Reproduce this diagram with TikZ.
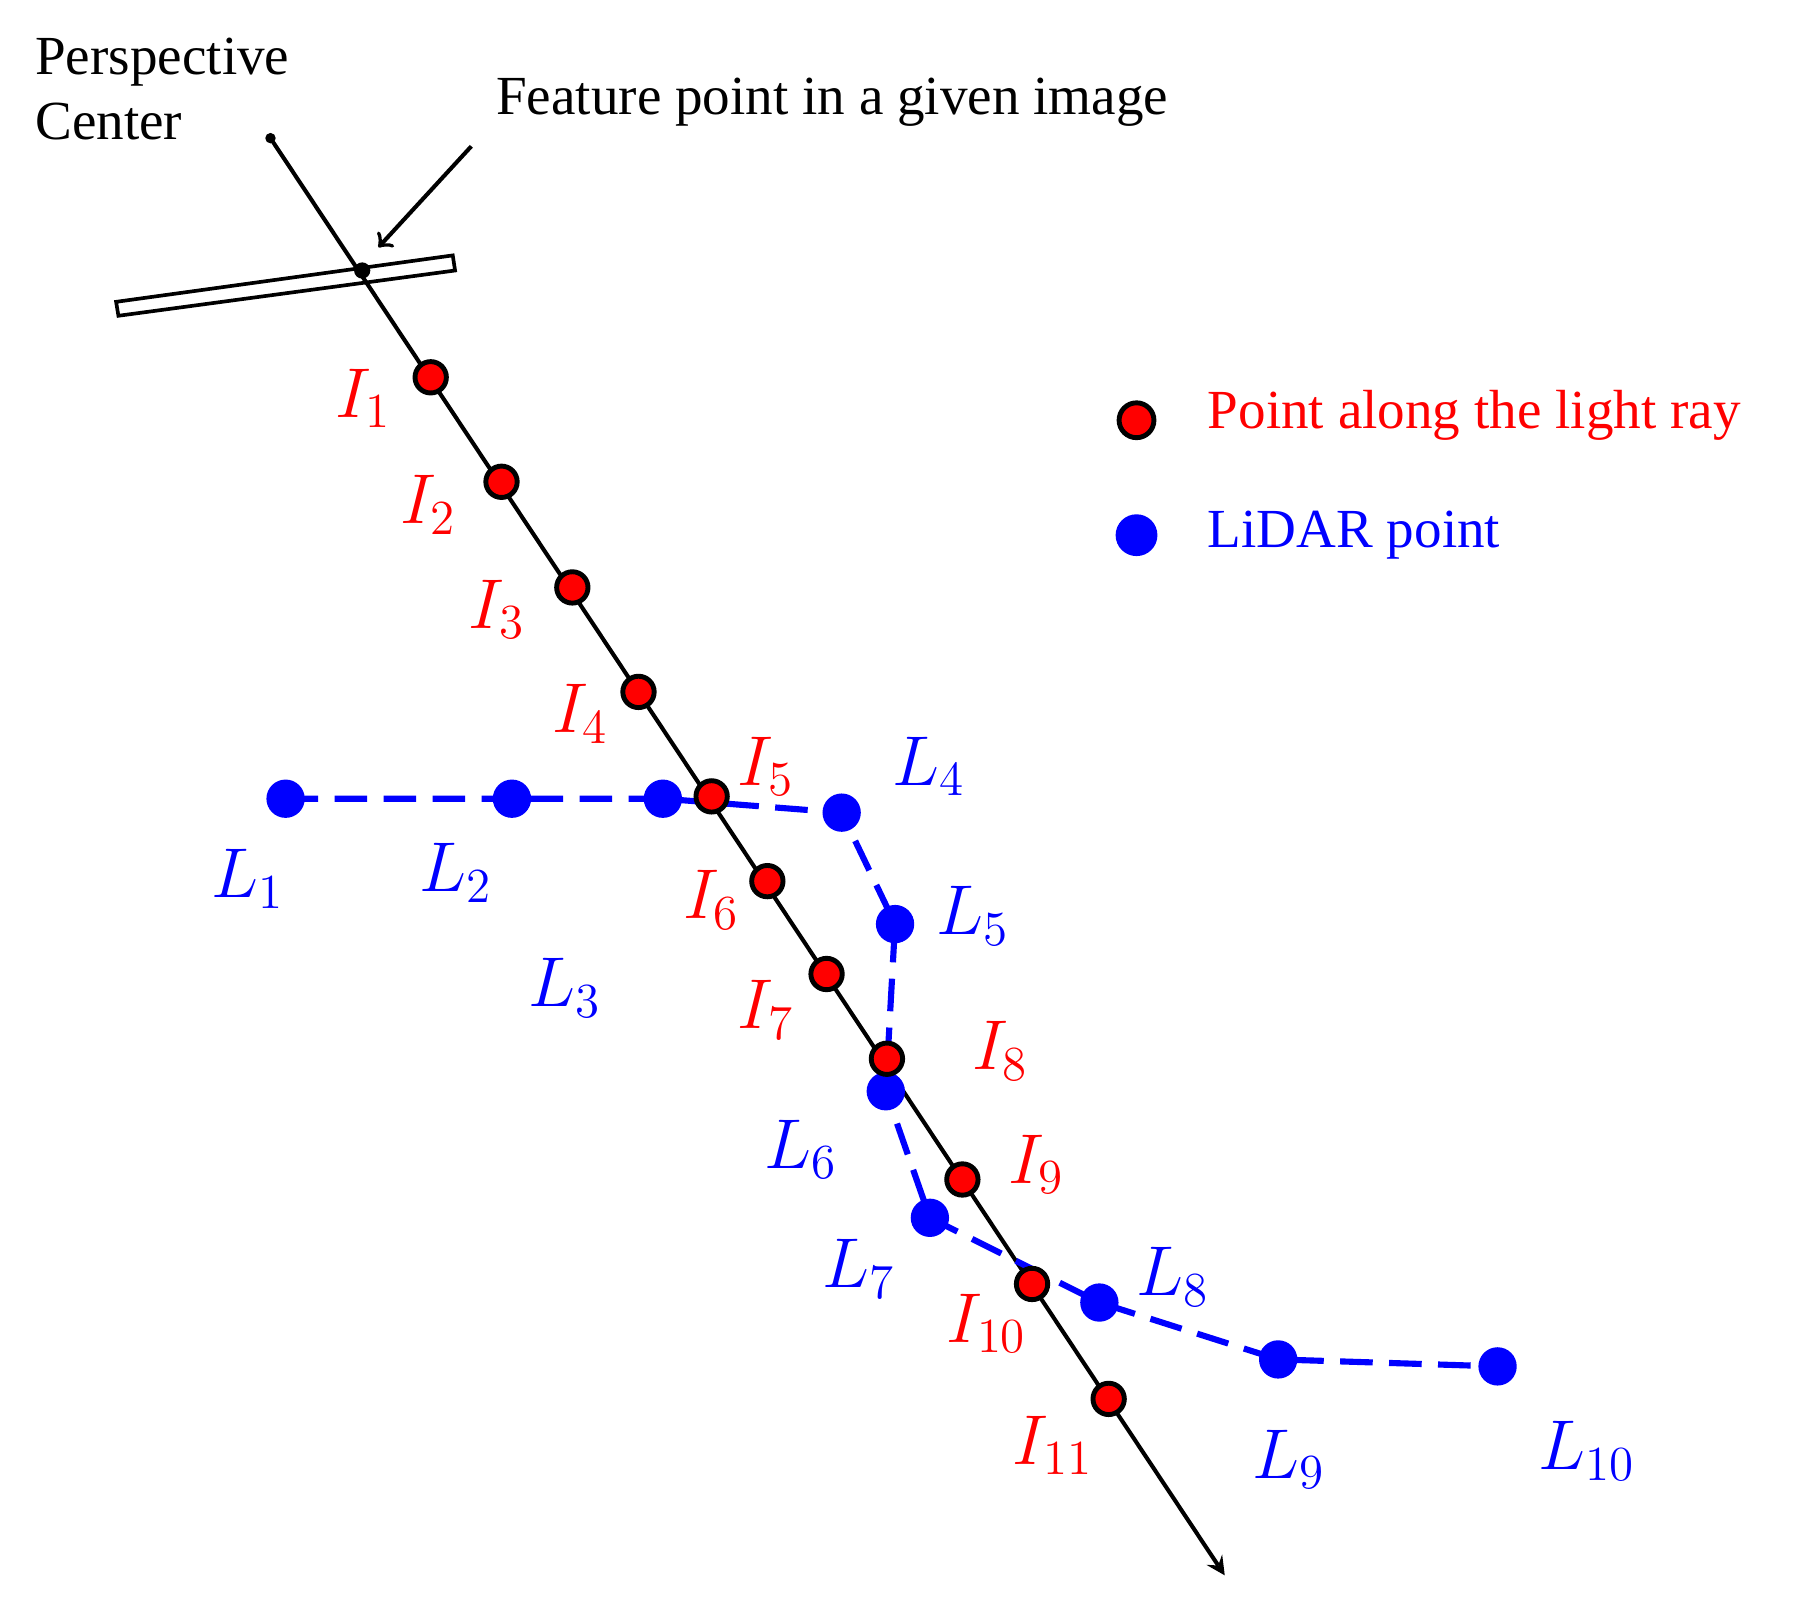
\documentclass[tikz,border=0pt]{standalone}
\usepackage{fontspec}
\setmainfont{Liberation Serif}
\begin{document}
\begin{tikzpicture}[x=0.01cm,y=-0.01cm,
 rdot/.style={circle,fill=red,draw=black,line width=1.2pt,minimum size=0.27cm,inner sep=0},
 bdot/.style={circle,fill=blue,minimum size=0.33cm,inner sep=0},
 rlab/.style={text=red,font=\fontsize{17}{17}\selectfont},
 blab/.style={text=blue,font=\fontsize{17}{17}\selectfont},
 txt/.style={font=\fontsize{13.5}{16}\selectfont}]
\useasboundingbox (0,0) rectangle (1560,1375);
\coordinate (pc) at (233,119);
\coordinate (fp) at (312,233);
\coordinate (end) at (1055,1357);
\draw[line width=0.9pt] (100,260)--(390,220)--(392,233)--(102,272)--cycle;
\draw[line width=1pt,-stealth] (pc)--(end);
\fill (pc) circle (4.5);
\fill (fp) circle (7);
\node[txt,align=left,anchor=north west] (pt) at (18,20) {Perspective\\Center};
\node[txt,anchor=west] (ft) at (415,88) {Feature point in a given image};
\coordinate (fa) at (406,126);
\draw[line width=1pt,->] (fa)--(326,213);
\draw[blue,dash pattern=on 8pt off 4pt,line width=1.5pt] (246,688)--(441,688)--(571,688)--(725,700)--(771,796)--(763,940)--(801,1049)--(947,1122)--(1101,1171)--(1290,1177);
\foreach \n/\x/\y in {1/246/688,2/441/688,3/571/688,4/725/700,5/771/796,6/763/940,7/801/1049,8/947/1122,9/1101/1171,10/1290/1177}
  \node[bdot] (L\n) at (\x,\y) {};
\foreach \n/\x/\y in {1/371/325,2/432/415,3/493/506,4/550/596,5/613/686,6/661/759,7/712/839,8/764/912,9/829/1016,10/889/1106,11/955/1205}
  \node[rdot] (I\n) at (\x,\y) {};
\foreach \n/\x/\y in {1/313/343,2/369/435,3/428/525,4/500/615,5/660/660,6/613/775,7/660/870,8/862/905,9/893/1003,10/850/1140,11/907/1245}
  \node[rlab] (tI\n) at (\x,\y) {$I_{\n}$};
\foreach \n/\x/\y in {1/214/757,2/393/752,3/487/851,4/800/660,5/838/789,6/690/990,7/740/1093,8/1010/1100,9/1110/1257,10/1367/1250}
  \node[blab] (tL\n) at (\x,\y) {$L_{\n}$};
\node[rdot,minimum size=0.3cm] (lr) at (979,362) {};
\node[bdot,minimum size=0.36cm] (lb) at (979,461) {};
\node[txt,text=red,anchor=west] (lrt) at (1028,358) {Point along the light ray};
\node[txt,text=blue,anchor=west] (lbt) at (1028,461) {LiDAR point};
\end{tikzpicture}
\end{document}
